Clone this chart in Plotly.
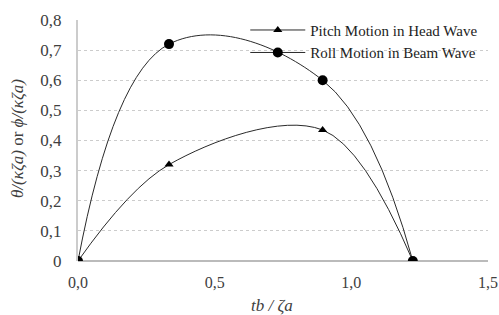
import plotly.graph_objects as go

x_vals = [0.0, 0.333, 0.895, 1.225]
pitch = [0.0, 0.32, 0.435, 0.0]
roll = [0.0, 0.72, 0.60, 0.0]
x_ticks = [0.0, 0.5, 1.0, 1.5]
x_tick_text = ["0,0", "0,5", "1,0", "1,5"]
y_ticks = [0, 0.1, 0.2, 0.3, 0.4, 0.5, 0.6, 0.7, 0.8]
y_tick_text = ["0", "0,1", "0,2", "0,3", "0,4", "0,5", "0,6", "0,7", "0,8"]
x_title = "<i>tb / ζa</i>"
y_title = "<i>θ/(κζa)</i> or <i>ϕ/(κζa)</i>"

fig = go.Figure()
fig.add_trace(go.Scatter(
    x=x_vals, y=pitch, mode="lines+markers", name="Pitch Motion in Head Wave",
    line=dict(color="#2a2a2a", width=1, shape="spline", smoothing=1.0),
    marker=dict(symbol="triangle-up", size=8, color="black")))
fig.add_trace(go.Scatter(
    x=x_vals, y=roll, mode="lines+markers", name="Roll Motion in Beam Wave",
    line=dict(color="#2a2a2a", width=1, shape="spline", smoothing=1.15),
    marker=dict(symbol="circle", size=10, color="black")))

tick_font = dict(family="Liberation Serif", size=17, color="#404040")
title_font = dict(family="Liberation Serif", size=17, color="#404040")
fig.update_layout(
    width=499, height=315,
    margin=dict(l=78, r=11, t=20, b=54, autoexpand=False),
    paper_bgcolor="white", plot_bgcolor="white",
    showlegend=True,
    legend=dict(x=0.408, y=1.026, xanchor="left", yanchor="top",
                font=dict(family="Liberation Serif", size=15, color="#222222"),
                bgcolor="rgba(0,0,0,0)", tracegroupgap=0, itemwidth=55),
    xaxis=dict(range=[0, 1.5], tickvals=x_ticks, ticktext=x_tick_text,
               automargin=False, ticklabeloverflow="allow",
               showgrid=False, zeroline=False, showline=False,
               tickfont=dict(family="Liberation Serif", size=16, color="#404040"),
               ticks="outside", ticklen=7, tickcolor="rgba(0,0,0,0)"),
    yaxis=dict(range=[0, 0.8], tickvals=y_ticks, ticktext=y_tick_text,
               automargin=False,
               showgrid=True, gridcolor="#cccccc", gridwidth=1, griddash="dot",
               zeroline=True, zerolinecolor="#bbbbbb", zerolinewidth=2,
               showline=True, linecolor="#cccccc", linewidth=2,
               tickfont=tick_font, ticks="outside", ticklen=11,
               tickcolor="rgba(0,0,0,0)"),
    annotations=[
        dict(text=x_title, xref="paper", yref="paper", x=0.473, y=-0.186,
             xanchor="center", yanchor="middle", showarrow=False, font=title_font),
        dict(text=y_title, xref="paper", yref="paper", x=-0.149, y=0.51,
             xanchor="center", yanchor="middle", showarrow=False, textangle=-90,
             font=title_font),
    ],
)
fig.write_html("out.html", config={"displayModeBar": False},
               post_script="document.body.style.margin='0';document.body.style.overflow='hidden';")
